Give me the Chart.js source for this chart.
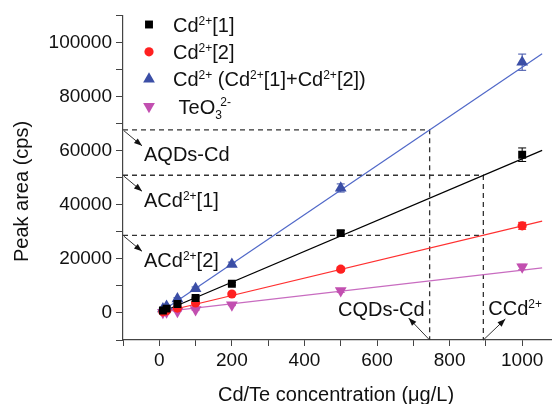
<!DOCTYPE html>
<html>
<head>
<meta charset="utf-8">
<script src="https://cdn.jsdelivr.net/npm/chart.js@4"></script>
<style>
  body { margin: 0; background: #fff; }
  canvas { display: block; }
</style>
</head>
<body>
<canvas id="peakChart" width="558" height="404"></canvas>
<script>
// Cd/Te concentration (µg/L)
const conc = [10, 20, 50, 100, 200, 500, 1000];
// peak areas (cps)
const cd1 = [900, 1600, 3300, 5500, 10800, 29500, 58500];
const cd2 = [400, 800, 1800, 3700, 7000, 16200, 32200];
const cdSum = [1500, 2500, 5200, 9000, 18000, 46200, 92700];
const teo3 = [200, 400, 600, 1200, 3000, 8200, 17000];
// error bars
const cd1Err = [200, 200, 300, 300, 500, 1000, 2500];
const cd2Err = [100, 100, 200, 200, 400, 800, 1300];
const cdSumErr = [200, 300, 400, 600, 800, 1500, 3000];
const teo3Err = [100, 100, 100, 200, 300, 600, 1000];
// fitted lines (end points)
const fitX = [2, 1055];
const fitCd1 = [100, 60100];
const fitCd2 = [60, 33970];
const fitSum = [180, 95800];
const fitTeo = [330, 16650];
// dashed guides
const guideConc = [745, 893];
const guideArea = [67700, 50900, 28700];

const FONT = 'Arial, "Liberation Sans", sans-serif';
const X_MIN = -100, X_MAX = 1080, Y_MIN = -10000, Y_MAX = 110000;

const pts = (xs, ys) => xs.map((x, i) => ({ x: x, y: ys[i] }));

function marker(label, ys, errs, color, style, r, rot) {
  return {
    label: label, data: pts(conc, ys), errs: errs,
    pointStyle: style, pointRadius: r, pointRotation: rot || 0,
    backgroundColor: color, borderColor: color, borderWidth: 0,
    showLine: false
  };
}
function fitLine(ys, color) {
  return { data: pts(fitX, ys), showLine: true, pointRadius: 0,
    borderColor: color, borderWidth: 1.2, fill: false };
}
function guide(data) {
  return { data: data, showLine: true, pointRadius: 0, clip: false,
    borderColor: '#333', borderWidth: 1.3, borderDash: [5, 4], fill: false };
}

// rich text: [text, kind, dx, hold]
function drawRich(ctx, parts, x, y, size) {
  parts.forEach(p => {
    let fs = size, dy = 0;
    if (p[1] === 'sup') { fs = size * 0.6; dy = -size * 0.36; }
    if (p[1] === 'sub') { fs = size * 0.6; dy = size * 0.25; }
    ctx.font = fs + 'px ' + FONT;
    x += p[2] || 0;
    ctx.fillText(p[0], x, y + dy);
    if (!p[3]) x += ctx.measureText(p[0]).width;
  });
  return x;
}

function arrow(ctx, x1, y1, x2, y2) {
  ctx.beginPath();
  ctx.moveTo(x1, y1);
  ctx.lineTo(x2, y2);
  ctx.stroke();
  const a = Math.atan2(y2 - y1, x2 - x1);
  ctx.beginPath();
  ctx.moveTo(x2, y2);
  ctx.lineTo(x2 - 8 * Math.cos(a) + 3 * Math.sin(a), y2 - 8 * Math.sin(a) - 3 * Math.cos(a));
  ctx.lineTo(x2 - 8 * Math.cos(a) - 3 * Math.sin(a), y2 - 8 * Math.sin(a) + 3 * Math.cos(a));
  ctx.closePath();
  ctx.fill();
}

function drawMarker(ctx, style, x, y, r, color) {
  ctx.fillStyle = color;
  ctx.beginPath();
  if (style === 'rect') {
    const s = r * Math.SQRT1_2;
    ctx.rect(x - s, y - s, 2 * s, 2 * s);
  } else if (style === 'circle') {
    ctx.arc(x, y, r, 0, Math.PI * 2);
  } else {
    const d = style === 'down' ? -1 : 1;
    ctx.moveTo(x, y - d * r);
    ctx.lineTo(x + r * 0.866, y + d * r * 0.5);
    ctx.lineTo(x - r * 0.866, y + d * r * 0.5);
    ctx.closePath();
  }
  ctx.fill();
}

const errorBars = {
  id: 'errorBars',
  beforeDatasetsDraw(chart) {
    const ctx = chart.ctx, ys = chart.scales.y;
    chart.data.datasets.forEach((ds, i) => {
      if (!ds.errs) return;
      const meta = chart.getDatasetMeta(i);
      ctx.save();
      ctx.strokeStyle = ds.borderColor;
      ctx.lineWidth = 1;
      meta.data.forEach((pt, j) => {
        const v = ds.data[j].y, e = ds.errs[j];
        const t = ys.getPixelForValue(v + e), b = ys.getPixelForValue(v - e);
        ctx.beginPath();
        ctx.moveTo(pt.x, t); ctx.lineTo(pt.x, b);
        ctx.moveTo(pt.x - 4, t); ctx.lineTo(pt.x + 4, t);
        ctx.moveTo(pt.x - 4, b); ctx.lineTo(pt.x + 4, b);
        ctx.stroke();
      });
      ctx.restore();
    });
  }
};

const labels = {
  id: 'labels',
  afterDraw(chart) {
    const ctx = chart.ctx, xs = chart.scales.x, ys = chart.scales.y;
    ctx.save();
    ctx.fillStyle = '#111';
    ctx.strokeStyle = '#333';
    ctx.lineWidth = 1;
    ctx.textBaseline = 'alphabetic';

    // legend
    const rows = [
      ['rect', 5.6, '#000', [['Cd'], ['2+', 'sup'], ['[1]']]],
      ['circle', 4.6, '#ff2020', [['Cd'], ['2+', 'sup'], ['[2]']]],
      ['up', 6.8, '#3b4ea6', [['Cd'], ['2+', 'sup'], [' (Cd'], ['2+', 'sup'], ['[1]+Cd'], ['2+', 'sup'], ['[2])']]],
      ['down', 6.8, '#c24fb0', [[' TeO'], ['3', 'sub', 0, true], ['2-', 'sup', 5]]]
    ];
    rows.forEach((row, i) => {
      const cy = 24.5 + i * 27.3;
      drawMarker(ctx, row[0], 149, cy, row[1], row[2]);
      ctx.fillStyle = '#111';
      drawRich(ctx, row[3], 173, cy + 7.2, 20);
    });

    // left guide annotations
    const left = [
      [[['AQDs-Cd']], guideArea[0]],
      [[['ACd'], ['2+', 'sup'], ['[1]']], guideArea[1]],
      [[['ACd'], ['2+', 'sup'], ['[2]']], guideArea[2]]
    ];
    left.forEach(g => {
      const ax = xs.getPixelForValue(X_MIN), ay = ys.getPixelForValue(g[1]);
      ctx.fillStyle = '#111';
      arrow(ctx, ax + 1, ay + 1, ax + 19, ay + 16);
      drawRich(ctx, g[0], ax + 21, ay + 31.5, 20);
    });

    // bottom guide annotations
    const bx1 = xs.getPixelForValue(guideConc[0]), bx2 = xs.getPixelForValue(guideConc[1]);
    const by = ys.getPixelForValue(Y_MIN);
    arrow(ctx, bx1, by, bx1 - 21, by - 22);
    arrow(ctx, bx2, by, bx2 + 22, by - 21);
    ctx.font = '20px ' + FONT;
    ctx.textAlign = 'right';
    ctx.fillText('CQDs-Cd', bx1 - 5, by - 24);
    ctx.textAlign = 'left';
    drawRich(ctx, [['CCd'], ['2+', 'sup']], bx2 + 5, by - 25, 20);

    // axis titles
    ctx.font = '20px ' + FONT;
    ctx.textAlign = 'left';
    ctx.fillText('Cd/Te concentration (\u03bcg/L)', 218, 400.5);
    ctx.save();
    ctx.translate(28, 191.5);
    ctx.rotate(-Math.PI / 2);
    ctx.textAlign = 'center';
    ctx.fillText('Peak area (cps)', 0, 0);
    ctx.restore();
    ctx.restore();
  }
};

new Chart(document.getElementById('peakChart').getContext('2d'), {
  type: 'scatter',
  data: {
    datasets: [
      marker('Cd2+[1]', cd1, cd1Err, '#000', 'rect', 5.6),
      marker('Cd2+[2]', cd2, cd2Err, '#ff2020', 'circle', 4.6),
      marker('Cd2+', cdSum, cdSumErr, '#3b4ea6', 'triangle', 6.8),
      marker('TeO3 2-', teo3, teo3Err, '#c24fb0', 'triangle', 6.8, 180),
      fitLine(fitCd1, '#000'),
      fitLine(fitCd2, '#ff3030'),
      fitLine(fitSum, '#5068c8'),
      fitLine(fitTeo, '#c86cc0'),
      guide([{ x: X_MIN, y: guideArea[0] }, { x: guideConc[0], y: guideArea[0] }, { x: guideConc[0], y: Y_MIN }]),
      guide([{ x: X_MIN, y: guideArea[1] }, { x: guideConc[1], y: guideArea[1] }, { x: guideConc[1], y: Y_MIN }]),
      guide([{ x: X_MIN, y: guideArea[2] }, { x: guideConc[1], y: guideArea[2] }])
    ]
  },
  options: {
    responsive: false,
    animation: false,
    layout: { padding: { top: 12, right: 1, left: 0, bottom: 0 } },
    plugins: { legend: { display: false }, tooltip: { enabled: false } },
    scales: {
      x: {
        type: 'linear', min: X_MIN, max: X_MAX,
        afterFit: s => { s.height = 64; },
        border: { color: '#444', width: 1.2 },
        grid: { drawOnChartArea: false, tickLength: 6, color: '#444' },
        ticks: {
          stepSize: 100, includeBounds: false, padding: 3, maxRotation: 0, autoSkip: false,
          color: '#111', font: { size: 19, family: FONT },
          callback: v => (v % 200 === 0 && v >= 0 && v <= 1000) ? String(v) : ''
        }
      },
      y: {
        min: Y_MIN, max: Y_MAX,
        afterFit: s => { s.width = 123; },
        border: { color: '#444', width: 1.2 },
        grid: { drawOnChartArea: false, tickLength: 7, color: '#444' },
        ticks: {
          stepSize: 10000, padding: 4, autoSkip: false,
          color: '#111', font: { size: 19, family: FONT },
          callback: v => (v % 20000 === 0 && v >= 0 && v <= 100000) ? String(v) : ''
        }
      }
    }
  },
  plugins: [errorBars, labels]
});
</script>
</body>
</html>
